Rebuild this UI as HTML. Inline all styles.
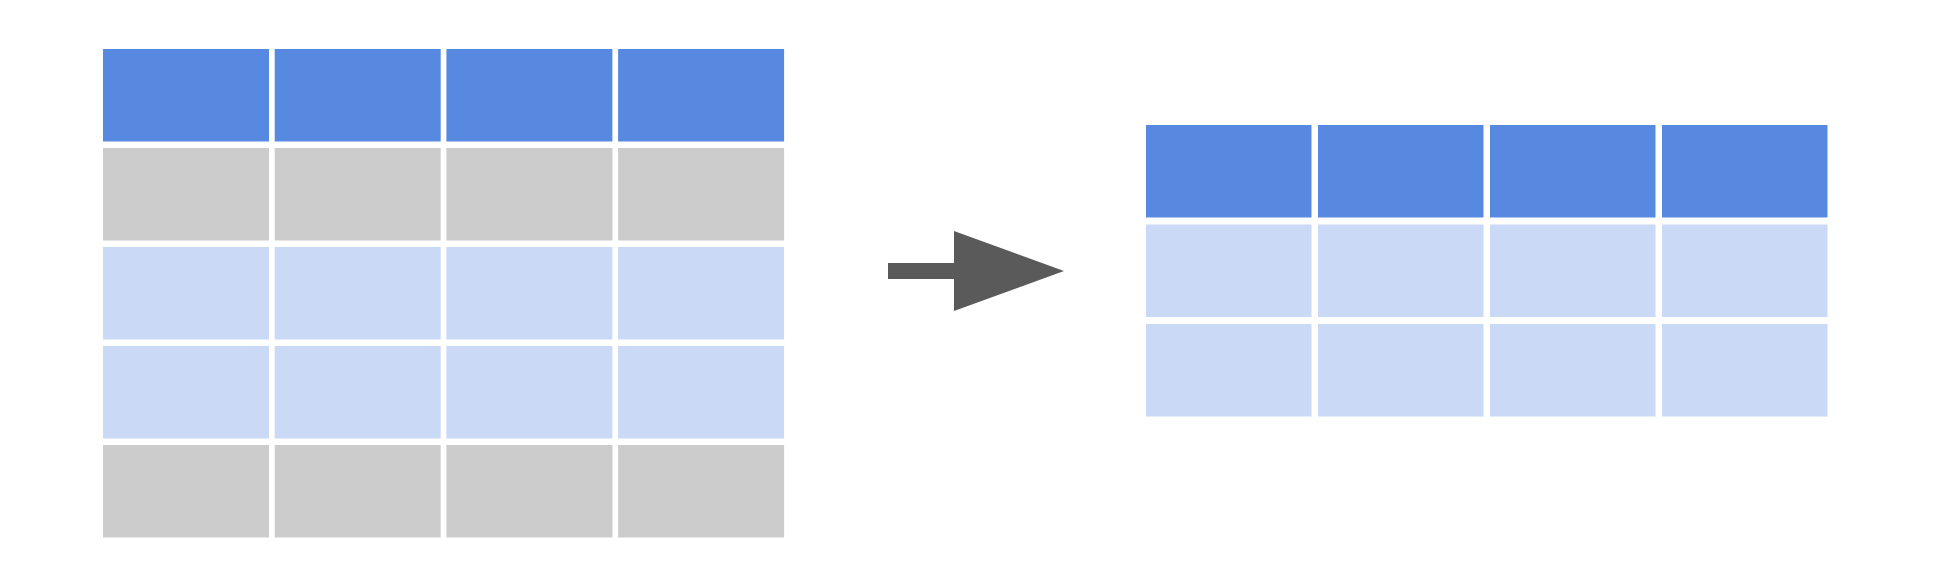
<!DOCTYPE html>
<html><head><meta charset="utf-8"><style>
html,body{margin:0;padding:0;background:#fff;}
svg{display:block;}
</style></head><body>
<svg width="1956" height="584" viewBox="0 0 1956 584" xmlns="http://www.w3.org/2000/svg">
<g id="left"></g>
<g id="arrow">
<rect x="888" y="263" width="68" height="16" fill="#5a5a5a"/>
<polygon points="954,231 1064,271 954,311" fill="#5a5a5a"/>
</g>
<g id="right"></g>
</svg>
<script>
const leftRowTypes = ['header','gray','blue','blue','gray'];
const rightRowTypes = ['header','blue','blue'];
const colNames = ['col-1','col-2','col-3','col-4'];
const colors = {header:'#5889e0', gray:'#cccccc', blue:'#cad9f6'};
const NS='http://www.w3.org/2000/svg';
function drawTable(gid, x0, y0, rows, colStep, rowStep, w, h, prefix){
  const g=document.getElementById(gid);
  rows.forEach((t,r)=>{
    colNames.forEach((c,ci)=>{
      const el=document.createElementNS(NS,'rect');
      el.setAttribute('x', x0+ci*colStep);
      el.setAttribute('y', y0+r*rowStep);
      el.setAttribute('width', w);
      el.setAttribute('height', h);
      el.setAttribute('fill', colors[t]);
      
      
      g.appendChild(el);
    });
  });
}
drawTable('left', 103, 49, leftRowTypes, 171.7, 99, 166, 92.5, 'source');
drawTable('right', 1146, 125, rightRowTypes, 172, 99.5, 165.5, 92.5, 'result');
</script>
</body></html>
